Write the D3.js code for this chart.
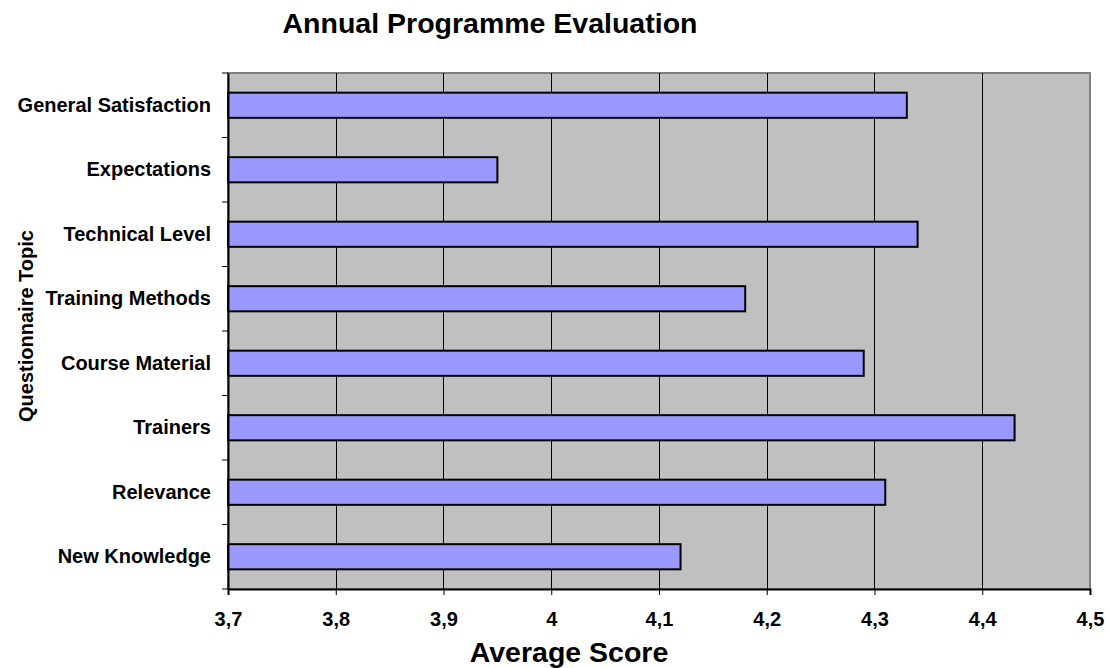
<!DOCTYPE html>
<html><head><meta charset="utf-8">
<script src="https://cdn.jsdelivr.net/npm/d3@7/dist/d3.min.js"></script>
<style>body{margin:0;background:#fff;} text{font-family:"Liberation Sans",Arial,sans-serif;font-weight:bold;}</style>
</head><body>
<svg id="c" width="1110" height="668"></svg>
<script>
const categories = ["General Satisfaction","Expectations","Technical Level","Training Methods","Course Material","Trainers","Relevance","New Knowledge"];
const scores = [4.33,3.95,4.34,4.18,4.29,4.43,4.31,4.12];
const xTicks = [3.7,3.8,3.9,4.0,4.1,4.2,4.3,4.4,4.5];
const xTickLabels = ["3,7","3,8","3,9","4","4,1","4,2","4,3","4,4","4,5"];

const svg = d3.select("#c");
const L=228, R=1090, T=73, B=589;
const x = d3.scaleLinear().domain([3.7,4.5]).range([L,R]);
const y = d3.scaleBand().domain(categories).range([T,B]).paddingInner(0.61).paddingOuter(0.305);

svg.append("rect").attr("x",L).attr("y",T).attr("width",R-L).attr("height",B-T)
  .attr("fill","#c0c0c0").attr("stroke","#808080").attr("stroke-width",2);

svg.append("g").selectAll("line").data(xTicks.slice(1,-1)).join("line")
  .attr("x1",d=>Math.round(x(d))+0.5).attr("x2",d=>Math.round(x(d))+0.5)
  .attr("y1",T).attr("y2",B).attr("stroke","#000").attr("stroke-width",1);

svg.append("g").selectAll("rect").data(categories).join("rect")
  .attr("x",x(3.7)).attr("y",d=>y(d)).attr("height",y.bandwidth())
  .attr("width",(d,i)=>x(scores[i])-x(3.7))
  .attr("fill","#9999ff").attr("stroke","#000").attr("stroke-width",2);

const fontCss = "'Liberation Sans',Arial,sans-serif";
// x axis
const xa = svg.append("g").attr("transform",`translate(0,${B})`)
  .call(d3.axisBottom(x).tickValues(xTicks).tickFormat((d,i)=>xTickLabels[i]).tickSize(6).tickPadding(17));
xa.select(".domain").attr("stroke","#000").attr("stroke-width",2);
xa.selectAll("line").attr("stroke","#000");
xa.selectAll("text").attr("font-size","20px").attr("fill","#000")
  .style("font-family",fontCss).style("font-weight","bold");

// y axis with ticks at band boundaries
const ya = svg.append("g").attr("transform",`translate(${L},0)`)
  .call(d3.axisLeft(y).tickSize(0).tickPadding(17));
ya.select(".domain").attr("stroke","#000").attr("stroke-width",2);
ya.selectAll("text").attr("font-size","20px").attr("fill","#000")
  .style("font-family",fontCss).style("font-weight","bold");
const step = (B-T)/categories.length;
svg.append("g").selectAll("line").data(d3.range(categories.length+1)).join("line")
  .attr("x1",L-6).attr("x2",L).attr("y1",i=>T+i*step).attr("y2",i=>T+i*step)
  .attr("stroke","#000").attr("stroke-width",1);

svg.append("text").attr("x",490).attr("y",33).attr("text-anchor","middle")
  .attr("font-size","28.5px").text("Annual Programme Evaluation");
svg.append("text").attr("x",569).attr("y",662).attr("text-anchor","middle")
  .attr("font-size","28.5px").text("Average Score");
svg.append("text").attr("transform","translate(33,326) rotate(-90)").attr("text-anchor","middle")
  .attr("font-size","20px").text("Questionnaire Topic");
</script>
</body></html>
